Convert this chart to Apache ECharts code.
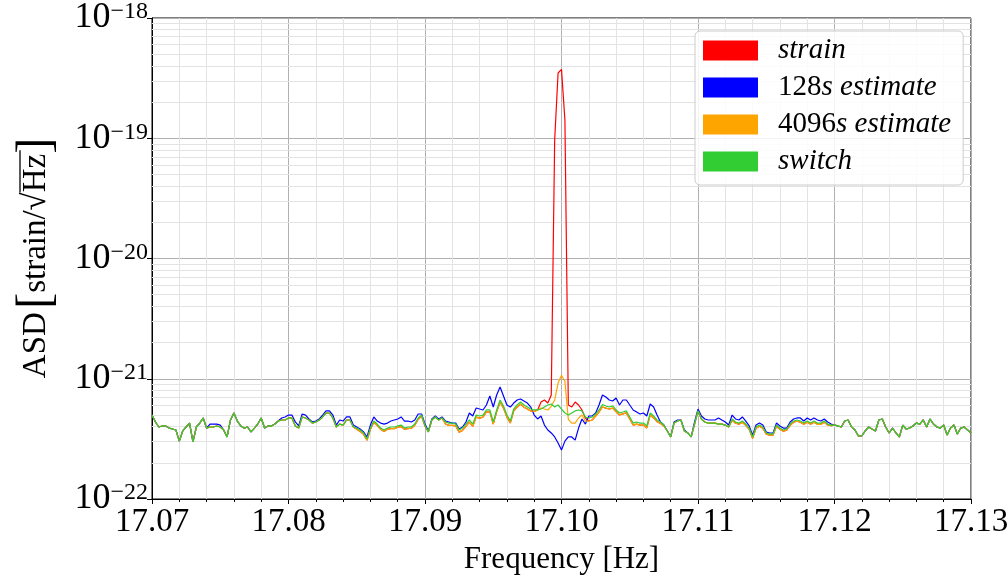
<!DOCTYPE html>
<html><head><meta charset="utf-8">
<script src="https://cdn.jsdelivr.net/npm/echarts@6/dist/echarts.min.js"></script>
<style>html,body{margin:0;padding:0;background:#fff}#c{width:1008px;height:577px}</style>
</head><body><div id="c"></div>
<script>
// Frequency grid (Hz)
const FREQ_START = 17.07, FREQ_STEP = 0.00025, N_POINTS = 241;
const xTicks = [17.07, 17.08, 17.09, 17.10, 17.11, 17.12, 17.13];
// ASD values are kept in units of 1e-22 strain/sqrt(Hz); the axis labels show the true powers of ten
const UNIT_EXP = -22;
const yDecades = [1, 10, 100, 1000, 10000]; // = 1e-22 ... 1e-18
const yMinorMultipliers = [2, 3, 4, 5, 6, 7, 8, 9];

const switchAsd = [
4.99,4.37,3.97,4.05,4.05,3.89,3.82,3.75,3.03,3.68,
3.97,4.28,2.98,3.97,4.28,4.72,3.89,3.97,3.97,4.05,
3.97,3.75,3.28,4.54,5.19,4.45,4.05,3.89,3.97,3.61,
3.89,4.20,4.72,3.89,4.05,4.05,4.20,4.45,4.54,4.54,
4.72,4.72,4.05,3.89,4.81,4.72,4.54,4.28,4.37,4.54,
4.81,5.19,5.19,4.72,3.97,4.20,4.12,4.54,4.54,3.97,
3.89,3.75,3.54,3.15,3.89,4.45,4.20,3.89,3.75,3.89,
3.97,3.97,4.05,4.12,3.89,3.97,3.97,4.20,4.72,4.99,
4.05,3.61,4.54,4.81,4.54,4.72,4.37,4.28,4.28,4.20,
3.75,3.89,4.20,4.54,4.20,4.99,4.90,4.99,5.50,5.50,
4.37,5.50,6.66,5.94,4.99,4.45,5.60,6.05,6.40,6.05,
5.82,5.60,5.50,5.50,5.60,5.82,6.05,6.17,5.82,6.05,
5.60,5.19,4.99,5.19,5.40,5.50,5.40,4.81,4.72,4.81,
5.09,5.50,6.10,5.94,5.82,5.94,5.50,5.19,5.29,5.40,
4.81,4.28,4.37,4.28,4.28,4.05,5.19,4.90,4.54,4.37,
4.12,3.68,3.28,4.28,4.45,4.54,3.68,3.54,3.28,4.20,
5.40,4.63,4.37,4.28,4.28,4.28,4.20,4.20,4.12,3.97,
4.63,4.37,4.28,4.45,4.20,3.89,3.28,3.97,4.12,3.97,
3.54,3.47,3.47,4.12,3.89,3.75,3.82,4.20,4.45,4.54,
4.45,4.28,4.45,4.28,4.45,4.28,4.28,4.45,4.20,4.12,
4.12,4.05,3.97,4.45,4.54,3.97,3.75,3.34,3.34,3.68,
3.97,3.82,3.68,4.54,4.63,3.97,3.54,3.89,3.54,3.28,
4.12,3.82,3.89,4.05,4.28,4.20,4.54,3.97,4.63,4.20,
3.97,3.89,4.12,3.40,3.89,4.12,3.47,3.89,3.97,3.75,
3.54];

const est128Asd = [
4.99,4.37,3.97,4.05,4.05,3.89,3.82,3.75,3.03,3.68,
3.97,4.28,2.98,3.97,4.28,4.72,3.89,4.20,4.20,4.20,
4.12,3.75,3.28,4.54,5.19,4.45,4.05,3.89,3.97,3.61,
3.89,4.20,4.72,3.89,4.05,4.05,4.20,4.45,4.72,4.81,
4.99,4.99,4.37,4.05,5.09,4.99,4.63,4.37,4.45,4.63,
4.99,5.40,5.40,4.99,4.12,4.54,4.45,4.81,4.81,4.12,
3.97,3.82,3.61,3.28,4.12,4.81,4.45,4.28,4.20,4.28,
4.45,4.54,4.63,4.81,4.45,4.45,4.37,4.54,5.09,5.09,
4.20,3.68,4.63,4.90,4.63,4.81,4.45,4.37,4.28,4.28,
3.82,3.97,4.37,5.19,4.90,5.71,5.60,5.50,6.05,7.19,
5.82,7.33,8.53,7.19,6.05,5.82,6.28,6.66,6.79,6.53,
6.28,5.82,4.99,4.63,4.90,4.12,3.75,3.54,3.28,2.92,
2.55,3.03,3.28,3.28,3.09,3.89,4.63,4.20,4.90,4.90,
5.19,6.05,7.33,7.05,6.66,6.53,6.92,6.05,6.66,6.66,
6.05,5.50,5.29,5.09,5.19,4.90,6.17,5.82,4.99,4.37,
4.12,3.68,3.30,4.37,4.54,4.54,3.75,3.54,3.28,4.37,
5.60,4.90,4.63,4.54,4.54,4.54,4.72,4.54,4.37,4.12,
4.99,4.63,4.54,4.81,4.45,4.05,3.40,4.12,4.28,4.12,
3.61,3.54,3.54,4.28,4.05,3.89,3.89,4.37,4.63,4.72,
4.72,4.45,4.72,4.54,4.72,4.54,4.45,4.63,4.37,4.20,
4.12,4.05,3.97,4.45,4.54,3.97,3.75,3.34,3.34,3.68,
3.97,3.82,3.68,4.54,4.63,3.97,3.54,3.89,3.54,3.28,
4.12,3.82,3.89,4.05,4.28,4.20,4.54,3.97,4.63,4.20,
3.97,3.89,4.12,3.40,3.89,4.12,3.47,3.89,3.97,3.75,
3.54];

const est4096Asd = [
4.99,4.37,3.97,4.05,4.05,3.89,3.82,3.75,3.03,3.68,
3.97,4.28,2.98,3.97,4.28,4.72,3.89,3.97,3.97,4.05,
3.97,3.75,3.28,4.54,5.19,4.45,4.05,3.89,3.97,3.61,
3.89,4.20,4.72,3.89,4.05,4.05,4.20,4.45,4.54,4.54,
4.72,4.72,4.05,3.89,4.81,4.72,4.54,4.28,4.37,4.54,
4.81,5.19,5.19,4.72,3.97,4.20,4.12,4.54,4.54,3.97,
3.80,3.65,3.45,3.08,3.80,4.35,4.10,3.80,3.65,3.80,
3.85,3.85,3.95,4.00,3.80,3.85,3.88,4.10,4.60,4.90,
4.05,3.61,4.54,4.81,4.54,4.72,4.20,4.10,4.10,4.05,
3.60,3.72,4.02,4.35,4.02,4.80,4.70,4.80,5.30,5.30,
4.20,5.30,6.40,5.70,4.80,4.28,5.40,5.80,6.15,5.80,
5.60,5.40,5.35,5.50,5.71,5.60,5.50,5.90,6.66,9.20,
10.7,9.50,4.60,4.28,4.28,4.72,4.99,4.45,4.45,4.54,
4.90,5.29,5.82,5.70,5.60,5.70,5.30,5.00,5.10,5.20,
4.62,4.12,4.20,4.12,4.12,3.90,5.00,4.72,4.40,4.25,
4.05,3.68,3.28,4.28,4.45,4.54,3.68,3.54,3.28,4.20,
5.40,4.63,4.37,4.28,4.28,4.28,4.20,4.20,4.12,3.97,
4.52,4.27,4.18,4.35,4.10,3.80,3.20,3.88,4.02,3.88,
3.46,3.40,3.40,4.02,3.80,3.66,3.73,4.10,4.35,4.43,
4.35,4.18,4.35,4.18,4.35,4.18,4.18,4.35,4.12,4.08,
4.12,4.05,3.97,4.45,4.54,3.97,3.75,3.34,3.34,3.68,
3.97,3.82,3.68,4.54,4.63,3.97,3.54,3.89,3.54,3.28,
4.12,3.82,3.89,4.05,4.28,4.20,4.54,3.97,4.63,4.20,
3.97,3.89,4.12,3.40,3.89,4.12,3.47,3.89,3.97,3.75,
3.54];

// strain equals the 4096s estimate except around the injected line
const strainLineStart = 114;
const strainLine = [6.40, 6.66, 6.28, 7.33, 967, 3490, 3740, 1420, 6.05, 5.82, 6.40, 6.05, 5.50, 4.72];

const seriesNames = ['strain', '128s estimate', '4096s estimate', 'switch'];
const seriesColors = ['#ff0000', '#0000ff', '#ffa500', '#32cd32'];
const legendLabels = {
  'strain': '{i|strain}',
  '128s estimate': '{n|128}{i|s estimate}',
  '4096s estimate': '{n|4096}{i|s estimate}',
  'switch': '{i|switch}'
};

const freq = [];
for (let i = 0; i < N_POINTS; i++) freq.push(+(FREQ_START + i * FREQ_STEP).toFixed(5));
const strainAsd = est4096Asd.slice();
strainLine.forEach((v, k) => { strainAsd[strainLineStart + k] = v; });
const toPairs = arr => arr.map((v, i) => [freq[i], v]);
const allSeries = [strainAsd, est128Asd, est4096Asd, switchAsd];

const minorY = [];
yDecades.slice(0, -1).forEach(d => yMinorMultipliers.forEach(m => minorY.push({ yAxis: d * m })));

const FONT = 'Liberation Serif';

// y-axis title laid out with measured text widths so the radical's vinculum sits over "Hz"
const NAME_SIZE = 33, BRACKET_SIZE = 48, NAME_CX = 36, NAME_CY = 258;
const mctx = document.createElement('canvas').getContext('2d');
const tw = (t, s) => { mctx.font = s + 'px "' + FONT + '"'; return mctx.measureText(t).width; };
const nameParts = [['ASD', NAME_SIZE], [' ', NAME_SIZE], ['[', BRACKET_SIZE], ['strain/', NAME_SIZE], ['\u221A', NAME_SIZE], ['Hz', NAME_SIZE], [']', BRACKET_SIZE]];
const widths = nameParts.map(p => tw(p[0], p[1]));
const totalW = widths.reduce((a, b) => a + b, 0);
const nameStart = NAME_CY + totalW / 2;
const hzStart = nameStart - (widths[0] + widths[1] + widths[2] + widths[3] + widths[4]);
const hzEnd = hzStart - widths[5];
const rootStart = hzStart + widths[4] * 0.15;

const chart = echarts.init(document.getElementById('c'));
chart.setOption({
  animation: false,
  backgroundColor: '#ffffff',
  grid: { left: 152, right: 37, top: 18, bottom: 78, show: true, borderColor: '#000', borderWidth: 1, backgroundColor: 'transparent',
    containLabel: false, outerBoundsMode: 'none' },
  legend: {
    left: 695, top: 31, orient: 'vertical', icon: 'rect', itemWidth: 55, itemHeight: 20, itemGap: 8,
    padding: [5, 12, 9, 8], backgroundColor: 'rgba(255,255,255,0.85)', borderColor: '#cccccc', borderWidth: 1, borderRadius: 5,
    data: seriesNames,
    formatter: n => legendLabels[n],
    textStyle: {
      padding: [0, 0, 0, 15], color: '#000',
      rich: {
        n: { fontFamily: FONT, fontSize: 29, lineHeight: 30, color: '#000' },
        i: { fontFamily: FONT, fontSize: 29, lineHeight: 30, fontStyle: 'italic', color: '#000' }
      }
    }
  },
  xAxis: {
    type: 'value', min: 17.07, max: 17.13, interval: 0.01,
    name: 'Frequency [Hz]', nameLocation: 'middle', nameGap: 39,
    nameTextStyle: { fontFamily: FONT, fontSize: 31, color: '#000' },
    axisLine: { show: true, onZero: false, lineStyle: { color: '#000', width: 1 } },
    axisTick: { show: true, length: 5, lineStyle: { color: '#000' } },
    minorTick: { show: true, splitNumber: 5, length: 3, lineStyle: { color: '#000' } },
    axisLabel: { fontFamily: FONT, fontSize: 33, color: '#000', margin: 7,
      formatter: v => { const t = xTicks.find(x => Math.abs(x - v) < 1e-9); return (t !== undefined ? t : v).toFixed(2); } },
    splitLine: { show: true, lineStyle: { color: '#b0b0b0', width: 1 } },
    minorSplitLine: { show: true, lineStyle: { color: '#e3e3e3', width: 1 } }
  },
  yAxis: {
    type: 'log', logBase: 10, min: yDecades[0], max: yDecades[yDecades.length - 1],
    axisLine: { show: true, lineStyle: { color: '#000', width: 1 } },
    axisTick: { show: true, length: 5, lineStyle: { color: '#000' } },
    axisLabel: {
      margin: 4, color: '#000',
      formatter: v => '{b|10}{s|\u2212' + Math.abs(Math.round(Math.log10(v)) + UNIT_EXP) + '}',
      rich: {
        b: { fontFamily: FONT, fontSize: 36, lineHeight: 36, verticalAlign: 'bottom', color: '#000' },
        s: { fontFamily: FONT, fontSize: 24, lineHeight: 16, verticalAlign: 'top', color: '#000' }
      }
    },
    splitLine: { show: true, lineStyle: { color: '#b0b0b0', width: 1 } },
    minorSplitLine: { show: false }
  },
  series: allSeries.map((arr, k) => {
    const s = {
      name: seriesNames[k], type: 'line', data: toPairs(arr), showSymbol: false, symbol: 'none',
      color: seriesColors[k], lineStyle: { color: seriesColors[k], width: 1.2 }, z: 2 + k, silent: true
    };
    if (k === 0) s.markLine = { silent: true, symbol: 'none', z: 1, label: { show: false },
      lineStyle: { color: '#e3e3e3', type: 'solid', width: 1 }, data: minorY, animation: false };
    return s;
  }),
  graphic: [
    { type: 'text', x: NAME_CX, y: NAME_CY, rotation: Math.PI / 2, z: 10,
      style: { text: '{a|ASD} {b|[}{a|strain/\u221AHz}{b|]}', align: 'center', verticalAlign: 'middle', fill: '#000',
        rich: { a: { fontFamily: FONT, fontSize: NAME_SIZE, fill: '#000' }, b: { fontFamily: FONT, fontSize: BRACKET_SIZE, fill: '#000' } } } },
    { type: 'line', z: 10, shape: { x1: 20, y1: rootStart, x2: 20, y2: hzEnd - 1 }, style: { stroke: '#000', lineWidth: 1.3 } }
  ]
});
</script></body></html>
